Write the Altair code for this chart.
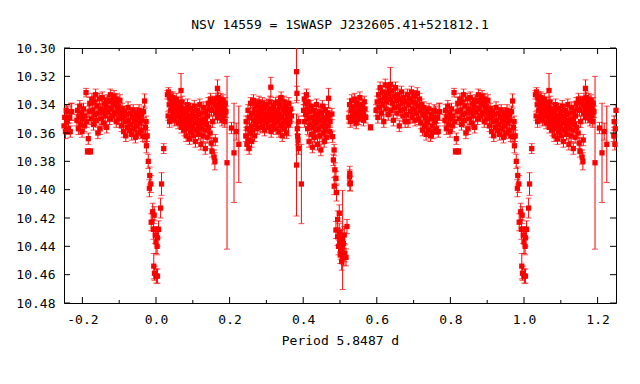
import altair as alt
import pandas as pd

FONT = "DejaVu Sans Mono"
RED = "#ff0000"
TYPICAL_ERR = 0.004
W, H = 552, 255

title_text = "NSV 14559 = 1SWASP J232605.41+521812.1"
x_title = "Period 5.8487 d"
x_major = [-0.2, 0.0, 0.2, 0.4, 0.6, 0.8, 1.0, 1.2]
x_minor = [-0.1, 0.1, 0.3, 0.5, 0.7, 0.9, 1.1]
y_major = [10.30, 10.32, 10.34, 10.36, 10.38, 10.40, 10.42, 10.44, 10.46, 10.48]

# (phase, mag[, err])
primary_eclipse = [
    (0.970, 10.3626), (0.974, 10.369, 0.005), (0.979, 10.380, 0.005), (0.983, 10.390, 0.006),
    (0.986, 10.396, 0.006), (0.982, 10.399, 0.006), (0.991, 10.4156, 0.006), (0.995, 10.418, 0.006),
    (0.987, 10.423, 0.006), (0.993, 10.428, 0.007), (0.998, 10.432, 0.006), (0.000, 10.437, 0.008),
    (0.003, 10.440, 0.006), (0.007, 10.428, 0.006), (0.004, 10.434, 0.006), (0.994, 10.454, 0.009),
    (0.996, 10.459, 0.005), (0.001, 10.461, 0.005), (0.004, 10.461, 0.005), (0.0126, 10.413, 0.007),
    (0.015, 10.396, 0.008), (0.021, 10.371, 0.0035),
]

segment_a = [
    (0.031, 10.333, 0.003), (0.033, 10.348, 0.003), (0.034, 10.331, 0.003), (0.036, 10.340),
    (0.037, 10.352), (0.038, 10.336, 0.003), (0.040, 10.344), (0.041, 10.334, 0.003),
    (0.042, 10.349), (0.044, 10.338), (0.045, 10.342, 0.003), (0.046, 10.335), (0.048, 10.346),
    (0.049, 10.337, 0.003), (0.050, 10.351), (0.052, 10.340), (0.053, 10.344), (0.055, 10.336),
    (0.056, 10.348), (0.058, 10.341), (0.060, 10.353), (0.068, 10.330, 0.012), (0.062, 10.339),
    (0.064, 10.345), (0.065, 10.350), (0.067, 10.342), (0.069, 10.356), (0.070, 10.347),
    (0.071, 10.338), (0.073, 10.352), (0.074, 10.344),
]

segment_b = [
    (0.076, 10.349), (0.077, 10.358), (0.079, 10.343), (0.080, 10.354), (0.082, 10.362),
    (0.083, 10.346), (0.085, 10.351), (0.086, 10.340), (0.088, 10.357), (0.089, 10.348),
    (0.091, 10.364), (0.092, 10.353), (0.094, 10.343), (0.095, 10.359), (0.097, 10.350),
    (0.098, 10.345), (0.100, 10.356), (0.101, 10.362), (0.103, 10.348), (0.104, 10.341),
    (0.106, 10.353), (0.107, 10.366), (0.109, 10.349), (0.110, 10.358), (0.112, 10.344),
    (0.113, 10.352), (0.115, 10.361), (0.116, 10.347), (0.118, 10.355), (0.119, 10.340),
    (0.121, 10.351), (0.122, 10.368), (0.124, 10.357), (0.125, 10.346), (0.127, 10.353),
    (0.128, 10.362), (0.130, 10.342), (0.131, 10.350), (0.133, 10.358), (0.134, 10.371),
    (0.136, 10.345), (0.137, 10.354), (0.139, 10.363), (0.140, 10.348), (0.142, 10.339),
    (0.143, 10.356),
]

segment_c = [
    (0.145, 10.343), (0.147, 10.360), (0.148, 10.336), (0.150, 10.367), (0.151, 10.344),
    (0.152, 10.373), (0.154, 10.352), (0.155, 10.338), (0.158, 10.377, 0.005), (0.160, 10.380, 0.006),
    (0.161, 10.365), (0.160, 10.340), (0.162, 10.346), (0.163, 10.336), (0.167, 10.3285, 0.006),
    (0.166, 10.342), (0.167, 10.349), (0.169, 10.335), (0.170, 10.344), (0.172, 10.339),
    (0.173, 10.347), (0.175, 10.341), (0.176, 10.336), (0.178, 10.345), (0.179, 10.351),
    (0.181, 10.340), (0.182, 10.337), (0.184, 10.348), (0.185, 10.343), (0.187, 10.352),
    (0.188, 10.339), (0.190, 10.345), (0.193, 10.381, 0.061), (0.205, 10.3565),
    (0.212, 10.374, 0.035), (0.218, 10.359, 0.006), (0.225, 10.368, 0.027),
]

segment_d = [
    (0.244, 10.362), (0.245, 10.352), (0.247, 10.368), (0.248, 10.357), (0.250, 10.344),
    (0.251, 10.365), (0.253, 10.371), (0.254, 10.349), (0.256, 10.360), (0.257, 10.339),
    (0.259, 10.355), (0.260, 10.366), (0.262, 10.346), (0.263, 10.358), (0.265, 10.337),
    (0.266, 10.351), (0.268, 10.362), (0.269, 10.343), (0.271, 10.354), (0.272, 10.348),
    (0.274, 10.340), (0.275, 10.357), (0.277, 10.345), (0.278, 10.352), (0.280, 10.338),
    (0.281, 10.349), (0.283, 10.356), (0.284, 10.342), (0.286, 10.351), (0.287, 10.3465),
    (0.289, 10.339), (0.290, 10.355), (0.292, 10.343), (0.293, 10.350), (0.295, 10.358),
    (0.296, 10.341), (0.298, 10.347), (0.299, 10.353), (0.301, 10.340), (0.312, 10.3277, 0.007),
    (0.304, 10.349), (0.305, 10.356), (0.307, 10.344), (0.308, 10.351), (0.310, 10.338),
    (0.311, 10.347), (0.313, 10.359), (0.314, 10.343), (0.316, 10.350), (0.317, 10.355),
    (0.319, 10.341), (0.320, 10.348), (0.322, 10.353), (0.323, 10.345), (0.325, 10.339),
    (0.326, 10.357), (0.328, 10.349),
]

segment_e = [
    (0.330, 10.344), (0.331, 10.352), (0.333, 10.338), (0.334, 10.359), (0.336, 10.347),
    (0.337, 10.341), (0.339, 10.355), (0.340, 10.335), (0.342, 10.349), (0.343, 10.362),
    (0.345, 10.343), (0.346, 10.353), (0.348, 10.338), (0.349, 10.357), (0.351, 10.346),
    (0.352, 10.341), (0.354, 10.351), (0.355, 10.360), (0.357, 10.344), (0.358, 10.349),
    (0.360, 10.354, 0.008), (0.361, 10.339), (0.363, 10.346), (0.364, 10.352), (0.366, 10.343),
    (0.368, 10.348),
]

segment_f = [
    (0.382, 10.3167, 0.022), (0.383, 10.332, 0.005), (0.382, 10.3826, 0.036), (0.395, 10.396, 0.028),
    (0.384, 10.357), (0.386, 10.365), (0.387, 10.371), (0.385, 10.362, 0.006), (0.388, 10.352),
]

segment_g = [
    (0.401, 10.344), (0.403, 10.336), (0.404, 10.352), (0.406, 10.339), (0.407, 10.347),
    (0.409, 10.333), (0.410, 10.343), (0.412, 10.357), (0.413, 10.338), (0.415, 10.350),
    (0.416, 10.366), (0.418, 10.345), (0.419, 10.354), (0.421, 10.341), (0.422, 10.361),
    (0.424, 10.349), (0.425, 10.370), (0.427, 10.356), (0.428, 10.344), (0.430, 10.352),
    (0.431, 10.363), (0.433, 10.347), (0.434, 10.358), (0.436, 10.340), (0.437, 10.353),
    (0.439, 10.368), (0.440, 10.349), (0.442, 10.357), (0.443, 10.345), (0.445, 10.362),
    (0.446, 10.351), (0.448, 10.372), (0.449, 10.346), (0.451, 10.355), (0.452, 10.341),
    (0.454, 10.360), (0.455, 10.349), (0.457, 10.366), (0.458, 10.353), (0.460, 10.344),
    (0.461, 10.358), (0.463, 10.350), (0.464, 10.363), (0.466, 10.346), (0.467, 10.355),
    (0.469, 10.3355, 0.007), (0.470, 10.348), (0.472, 10.359), (0.473, 10.352),
]

secondary_eclipse = [
    (0.478, 10.3466), (0.480, 10.3626), (0.484, 10.372), (0.482, 10.379), (0.486, 10.386, 0.005),
    (0.489, 10.392, 0.005), (0.4843, 10.3975, 0.006), (0.4907, 10.402, 0.006), (0.4980, 10.4167, 0.006),
    (0.4936, 10.421, 0.006), (0.4890, 10.4285, 0.006), (0.4936, 10.4333, 0.006), (0.4999, 10.438, 0.006),
    (0.5026, 10.434, 0.006), (0.5072, 10.4355, 0.035), (0.5007, 10.4461, 0.006), (0.5100, 10.4473, 0.006),
    (0.5045, 10.4508, 0.006), (0.5163, 10.4478, 0.006), (0.5190, 10.426, 0.005), (0.5116, 10.432, 0.006),
    (0.496, 10.440, 0.006), (0.502, 10.443, 0.006), (0.506, 10.441, 0.006), (0.509, 10.438, 0.006),
    (0.498, 10.430, 0.006), (0.513, 10.445, 0.006),
    (0.527, 10.396, 0.005), (0.528, 10.3955, 0.005), (0.5265, 10.3885, 0.005), (0.526, 10.391, 0.005),
]

segment_i = [
    (0.524, 10.349), (0.526, 10.340), (0.528, 10.352), (0.530, 10.344), (0.532, 10.337),
    (0.534, 10.348), (0.536, 10.342), (0.538, 10.351), (0.540, 10.336), (0.542, 10.345),
    (0.544, 10.353), (0.546, 10.339), (0.548, 10.347), (0.550, 10.341), (0.552, 10.350),
    (0.554, 10.335), (0.556, 10.344), (0.558, 10.348), (0.560, 10.340), (0.562, 10.346),
    (0.564, 10.351), (0.566, 10.338), (0.568, 10.343), (0.570, 10.349), (0.583, 10.356, 0.002),
]

segment_j = [
    (0.598, 10.344), (0.601, 10.338), (0.603, 10.349), (0.605, 10.333), (0.607, 10.342),
    (0.609, 10.328), (0.611, 10.337), (0.613, 10.346), (0.615, 10.331), (0.617, 10.340),
    (0.619, 10.352), (0.621, 10.335), (0.623, 10.326), (0.625, 10.343), (0.627, 10.338),
    (0.629, 10.332), (0.631, 10.347), (0.633, 10.329), (0.637, 10.3257, 0.012), (0.637, 10.336),
    (0.639, 10.344), (0.641, 10.330), (0.643, 10.339), (0.645, 10.351), (0.647, 10.334),
    (0.649, 10.342), (0.651, 10.328), (0.653, 10.337), (0.655, 10.346), (0.657, 10.333),
    (0.659, 10.341), (0.661, 10.355), (0.663, 10.336), (0.665, 10.344), (0.667, 10.331),
    (0.669, 10.339), (0.671, 10.348), (0.673, 10.335), (0.675, 10.343), (0.677, 10.352),
    (0.679, 10.338),
]

segment_k = [
    (0.681, 10.347), (0.683, 10.333), (0.685, 10.352), (0.687, 10.340), (0.690, 10.336),
    (0.692, 10.345), (0.694, 10.331), (0.696, 10.349), (0.698, 10.338), (0.700, 10.343),
    (0.702, 10.334), (0.704, 10.351), (0.706, 10.339), (0.708, 10.346), (0.710, 10.332),
    (0.712, 10.341), (0.714, 10.350), (0.716, 10.336), (0.718, 10.344), (0.720, 10.353),
    (0.722, 10.340), (0.724, 10.358), (0.726, 10.347), (0.728, 10.342), (0.730, 10.355),
    (0.732, 10.349), (0.734, 10.361), (0.736, 10.345), (0.738, 10.352), (0.740, 10.358),
    (0.742, 10.343), (0.744, 10.350), (0.746, 10.362), (0.748, 10.347), (0.750, 10.355),
    (0.752, 10.349, 0.005), (0.754, 10.359, 0.005), (0.756, 10.344), (0.758, 10.352), (0.760, 10.345),
    (0.762, 10.357), (0.765, 10.349), (0.767, 10.359), (0.769, 10.345, 0.006), (0.771, 10.345, 0.006),
]

segment_l = [
    (0.785, 10.351), (0.787, 10.344), (0.789, 10.357), (0.791, 10.348), (0.793, 10.341),
    (0.795, 10.354), (0.797, 10.346), (0.799, 10.359), (0.801, 10.350), (0.803, 10.343),
    (0.805, 10.355), (0.807, 10.348), (0.810, 10.3315, 0.003), (0.812, 10.352), (0.814, 10.373, 0.002),
    (0.816, 10.364), (0.818, 10.345), (0.820, 10.339), (0.822, 10.373, 0.002), (0.824, 10.350),
    (0.826, 10.336), (0.828, 10.344), (0.830, 10.354), (0.832, 10.338), (0.834, 10.347),
    (0.836, 10.333), (0.838, 10.351), (0.840, 10.341), (0.842, 10.360), (0.844, 10.346),
    (0.846, 10.336), (0.848, 10.357), (0.850, 10.343), (0.852, 10.350), (0.854, 10.335),
    (0.856, 10.345), (0.858, 10.353), (0.860, 10.339), (0.862, 10.348), (0.864, 10.342),
    (0.866, 10.356), (0.868, 10.337),
]

segment_m = [
    (0.870, 10.345), (0.872, 10.338), (0.874, 10.350), (0.876, 10.333), (0.878, 10.343),
    (0.880, 10.337), (0.882, 10.348), (0.884, 10.340), (0.886, 10.334), (0.888, 10.346),
    (0.890, 10.339), (0.892, 10.352), (0.894, 10.336), (0.896, 10.344), (0.898, 10.341),
    (0.900, 10.350), (0.902, 10.337), (0.904, 10.346), (0.906, 10.355), (0.908, 10.343),
    (0.910, 10.349), (0.912, 10.359), (0.914, 10.345), (0.916, 10.352), (0.918, 10.362),
    (0.920, 10.347), (0.922, 10.356), (0.924, 10.342), (0.926, 10.351), (0.928, 10.358),
    (0.930, 10.346), (0.932, 10.354), (0.934, 10.361), (0.936, 10.349), (0.938, 10.344),
    (0.940, 10.357), (0.942, 10.351), (0.944, 10.363), (0.946, 10.346), (0.948, 10.355),
    (0.950, 10.349), (0.952, 10.360), (0.954, 10.344), (0.956, 10.353), (0.958, 10.347),
    (0.960, 10.358), (0.962, 10.351), (0.964, 10.362), (0.966, 10.345), (0.969, 10.3374, 0.005),
    (0.971, 10.356), (0.973, 10.352), (0.976, 10.362),
]

segments = [primary_eclipse, segment_a, segment_b, segment_c, segment_d, segment_e, segment_f,
            segment_g, secondary_eclipse, segment_i, segment_j, segment_k, segment_l, segment_m]

rows = []
for seg in segments:
    for t in seg:
        p, m = t[0], t[1]
        e = t[2] if len(t) > 2 else TYPICAL_ERR
        copies = [p]
        if p >= 0.75:
            copies.append(p - 1.0)
        if p <= 0.25:
            copies.append(p + 1.0)
        for q in copies:
            if -0.25 <= q <= 1.25:
                rows.append({"phase": q, "mag": m, "lo": m - e, "hi": m + e})
df = pd.DataFrame(rows)

xs = alt.Scale(domain=[-0.25, 1.25], nice=False, zero=False)
ys = alt.Scale(domain=[10.30, 10.48], reverse=True, nice=False, zero=False)

ax_x = alt.Axis(values=x_major, ticks=False, tickSize=0, domain=False, grid=False,
                labelExpr="datum.value < 0 ? '-' + format(-datum.value, '.1f') : format(datum.value, '.1f')",
                labelPadding=10, titlePadding=8)
ax_y = alt.Axis(values=y_major, format=".2f", ticks=False, tickSize=0, domain=False,
                grid=False, labelPadding=9)

def X(field):
    return alt.X(field, type="quantitative", scale=xs, axis=ax_x, title=x_title)

def Y(field):
    return alt.Y(field, type="quantitative", scale=ys, axis=ax_y, title=None)

base = alt.Chart(df)
bars = base.mark_rule(color=RED, strokeWidth=1, clip=True).encode(
    x=X("phase"), y=Y("lo"), y2="hi:Q")
cap_lo = base.mark_tick(color=RED, orient="horizontal", size=6, thickness=1, clip=True).encode(
    x=X("phase"), y=Y("lo"))
cap_hi = base.mark_tick(color=RED, orient="horizontal", size=6, thickness=1, clip=True).encode(
    x=X("phase"), y=Y("hi"))
points = base.mark_square(color=RED, size=28, opacity=1).encode(
    x=X("phase"), y=Y("mag"))

xt_major = pd.DataFrame({"t": x_major})
xt_minor = pd.DataFrame({"t": x_minor})
yt_major = pd.DataFrame({"t": y_major})

def x_ticks(data, length):
    bottom = alt.Chart(data).mark_rule(color="black", strokeWidth=1).encode(
        x=X("t"), y=alt.value(H), y2=alt.value(H - length))
    top = alt.Chart(data).mark_rule(color="black", strokeWidth=1).encode(
        x=X("t"), y=alt.value(0), y2=alt.value(length))
    return [bottom, top]

def y_ticks(data, length):
    left = alt.Chart(data).mark_rule(color="black", strokeWidth=1).encode(
        y=Y("t"), x=alt.value(0), x2=alt.value(length))
    right = alt.Chart(data).mark_rule(color="black", strokeWidth=1).encode(
        y=Y("t"), x=alt.value(W), x2=alt.value(W - length))
    return [left, right]

tick_layers = x_ticks(xt_major, 6) + x_ticks(xt_minor, 3) + y_ticks(yt_major, 6)

chart = alt.layer(bars, cap_lo, cap_hi, points, *tick_layers).properties(
    width=W, height=H,
    title=alt.TitleParams(title_text, font=FONT, fontSize=13, fontWeight="normal", color="black",
                          anchor="middle", baseline="alphabetic", offset=0),
    padding={"left": 56, "top": 40, "right": 16, "bottom": 60},
    autosize="none",
).configure_view(stroke="black", strokeWidth=1).configure_axis(
    labelFont=FONT, labelFontSize=13, labelColor="black",
    titleFont=FONT, titleFontSize=13, titleFontWeight="normal", titleColor="black",
)

chart.save("out.html", embed_options={"renderer": "svg", "actions": False})
